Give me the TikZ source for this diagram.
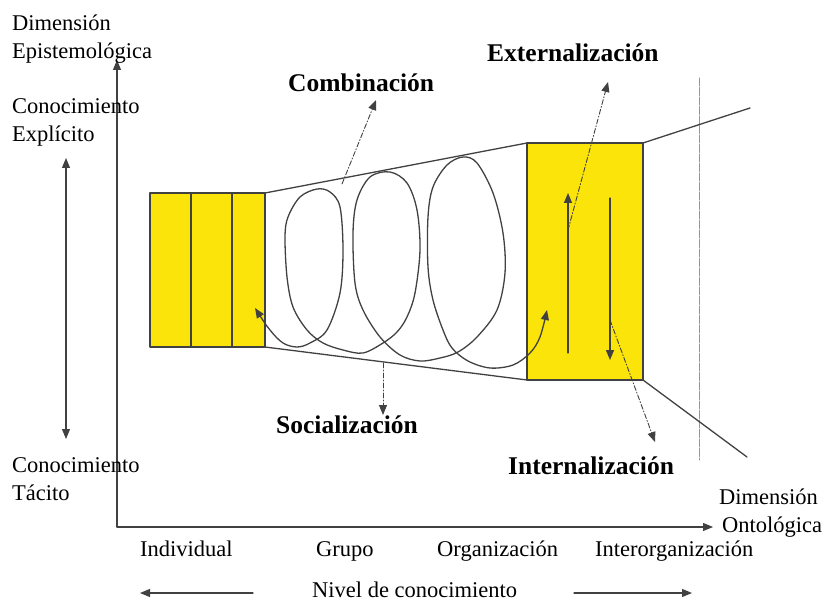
\documentclass[tikz,border=0pt]{standalone}
\usepackage{fontspec}
\setmainfont{Liberation Serif}
\usetikzlibrary{arrows.meta}
\definecolor{amarillo}{RGB}{250,228,10}
\definecolor{linea}{RGB}{65,65,65}
\definecolor{tenue}{RGB}{150,150,150}

\begin{document}
\begin{tikzpicture}[line cap=round,line join=round,>={Triangle[length=10pt,width=8pt]},x=1pt,y=-1pt,
  txt/.style={font=\fontsize{22.5}{26}\selectfont,inner sep=0pt,anchor=base west},
  etapa/.style={font=\fontsize{25.5}{28}\selectfont\bfseries,inner sep=0pt,anchor=base west},
  caja/.style={draw=linea,line width=1.3pt,fill=amarillo},
  guia/.style={line width=0.9pt,color=linea,dash pattern=on 5pt off 2pt on 1pt off 2pt}]
\useasboundingbox (0,0) rectangle (825,604);
%% puntos
\coordinate (O) at (117,527);
\coordinate (ejeY) at (117,60);
\coordinate (ejeX) at (713,527);
\coordinate (tacA) at (66,158);
\coordinate (tacB) at (66,439);
\coordinate (indA) at (150,193);
\coordinate (indB) at (265,347);
\coordinate (orgA) at (527,143);
\coordinate (orgB) at (643,380);
\coordinate (finA) at (750,108);
\coordinate (finB) at (747,457);
\coordinate (limA) at (699,78);
\coordinate (limB) at (699,460);
%% ejes
\draw [line width=1.1pt,color=linea,->] (O)-- (ejeY);
\draw [line width=1.1pt,color=linea,->] (O)-- (ejeX);
\draw [line width=1.1pt,color=linea,<->] (tacA)-- (tacB);
\draw [line width=1pt,color=tenue,dash pattern=on 8pt off 1.5pt] (limA)-- (limB);
%% cajas y embudo
\draw [caja] (indA) rectangle (indB);
\draw [line width=1.3pt,color=linea] (191,193)-- (191,347);
\draw [line width=1.3pt,color=linea] (232,193)-- (232,347);
\draw [caja] (orgA) rectangle (orgB);
\draw [line width=1.3pt,color=linea] (indB |- indA)-- (orgA);
\draw [line width=1.3pt,color=linea] (indB)-- (orgA |- orgB);
\draw [line width=1.3pt,color=linea] (orgB |- orgA)-- (finA);
\draw [line width=1.3pt,color=linea] (orgB)-- (finB);
%% flechas en la caja
\draw [line width=1.3pt,color=linea,->] (568,353)-- (568,193);
\draw [line width=1.3pt,color=linea,->] (610,198)-- (610,360);
%% espiral
\draw [line width=1.3pt,color=linea,<->] plot[smooth,tension=0.55] coordinates {(255,308) (270,330) (283,343) (297,347) (310,343) (327,330) (340,293) (343,250) (340,207) (330,192) (317,189) (300,197) (288,217) (285,237) (287,277) (293,307) (307,330) (323,343) (343,350) (363,353) (383,343) (397,332) (407,317) (415,293) (420,250) (417,210) (407,183) (390,172) (370,177) (357,200) (353,233) (355,283) (363,310) (380,337) (400,355) (420,361) (440,358) (458,352) (477,337) (497,310) (505,273) (503,233) (493,193) (477,163) (463,157) (447,165) (433,187) (428,217) (428,267) (433,300) (443,330) (452,348) (468,361) (490,368) (513,365) (530,353) (540,337) (547,310)};
%% textos
\node [txt] (dimE) at (12,31) {Dimensión};
\node [txt] (epis) at (12,59) {Epistemológica};
\node [txt] (conE) at (12,114) {Conocimiento};
\node [txt] (expl) at (12,142) {Explícito};
\node [txt] (conT) at (12,472) {Conocimiento};
\node [txt] (taci) at (12,500) {Tácito};
\node [txt] (dimO) at (719,504) {Dimensión};
\node [txt] (onto) at (722,532) {Ontológica};
\node [txt] (indiv) at (140,556) {Individual};
\node [txt] (grupo) at (316,556) {Grupo};
\node [txt] (organ) at (437,556) {Organización};
\node [txt] (inter) at (595,556) {Interorganización};
\node [txt] (nivel) at (312,597) {Nivel de conocimiento};
\node [etapa] (comb) at (288,92) {Combinación};
\node [etapa] (exte) at (487,62) {Externalización};
\node [etapa] (soci) at (276,433) {Socialización};
\node [etapa] (inte) at (508,474) {Internalización};
%% flechas de las etapas
\draw [guia,->] (342,184)-- (376,100);
\draw [guia,->] (383,363)-- (383,415);
\draw [guia,->] (568,230)-- (608,82);
\draw [guia,->] (610,320)-- (655,442);
\draw [line width=1.1pt,color=linea,->] (253,593)-- (140,593);
\draw [line width=1.1pt,color=linea,->] (574,593)-- (692,593);
\end{tikzpicture}
\end{document}
